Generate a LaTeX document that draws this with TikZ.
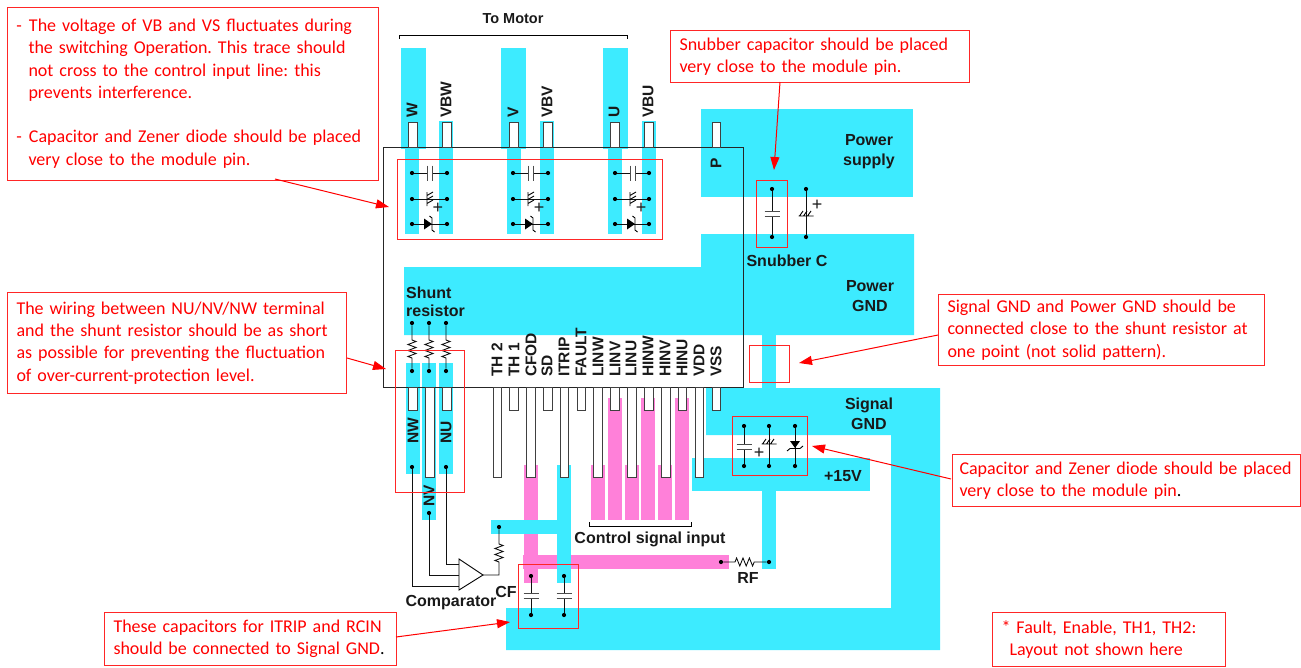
\documentclass[tikz,border=0pt]{standalone}
\usepackage{fontspec}
\setmainfont{Carlito}
\newfontfamily\lblfont{Liberation Sans}
\usetikzlibrary{arrows.meta,calc}
\definecolor{trace}{HTML}{3DEBFF}
\definecolor{ctrl}{HTML}{FF80D9}
\definecolor{note}{HTML}{FF0000}
\definecolor{wirec}{HTML}{111111}
\frenchspacing
\hbadness=10000
\hfuzz=100pt
\tikzset{
  x=1pt,y=-1pt,
  cyanarea/.style={fill=trace,draw=none},
  pinkarea/.style={fill=ctrl,draw=none},
  pinbox/.style={draw=black!75,fill=white,line width=0.9pt},
  wire/.style={draw=wirec,line width=0.9pt},
  plate/.style={draw=black!70,line width=0.9pt},
  notebox/.style={draw=note!85,line width=1pt,anchor=north west,align=left,text=note,inner xsep=9pt,inner ysep=0pt,font=\fontsize{18}{22.3}\selectfont},
  noteframe/.style={draw=note!85,line width=1pt,fill=none},
  notearrow/.style={draw=note,line width=1pt,-{Triangle[length=13pt,width=9pt]}},
  lbl/.style={font=\lblfont\bfseries\fontsize{16}{18}\selectfont,text=black!90,inner sep=0pt},
  plus/.style={text=black!90,inner sep=0pt,font=\lblfont\fontsize{18}{18}\selectfont},
  plbl/.style={lbl,align=center,font=\lblfont\bfseries\fontsize{16}{20}\selectfont},
  vlbl/.style={lbl,rotate=90,anchor=west,font=\lblfont\bfseries\fontsize{15.5}{18}\selectfont},
  vdot/.style={circle,fill=black,inner sep=0pt,minimum size=4.2pt}
}
\newcommand{\HDots}[3]{\node[vdot] (a#1#2) at (#1,#3) {};\node[vdot] (b#1#2) at (#2,#3) {};}
\newcommand{\HCap}[3]{\HDots{#1}{#2}{#3}
  \draw[wire] (a#1#2) -- ($(a#1#2)+(15,0)$) ($(a#1#2)+(20,0)$) -- (b#1#2);
  \draw[plate] ($(a#1#2)+(15,-7.5)$) -- ++(0,15) ($(a#1#2)+(20,-7.5)$) -- ++(0,15);}
\newcommand{\HZen}[3]{\HDots{#1}{#2}{#3}
  \draw[wire] (a#1#2) -- (b#1#2);
  \draw[line width=0.9pt,black] ($(a#1#2)+(15,-7)$) -- ++(0,14)
    ($(a#1#2)+(15,-3.5)$) -- ++(6,-3.5) ($(a#1#2)+(15,0.5)$) -- ++(6,-3.5) ($(a#1#2)+(15,4.5)$) -- ++(6,-3.5);
  \node[plus] (p#1#2) at ($(a#1#2)+(26,9)$) {+};}
\newcommand{\HDio}[3]{\HDots{#1}{#2}{#3}
  \draw[wire] (a#1#2) -- (b#1#2);
  \fill[black] ($(a#1#2)+(12,-5.5)$) -- ($(a#1#2)+(20,0)$) -- ($(a#1#2)+(12,5.5)$) -- cycle;
  \draw[line width=0.9pt,black] ($(a#1#2)+(17.5,-8)$) -- ($(a#1#2)+(20,-6)$) -- ($(a#1#2)+(20,6)$) -- ($(a#1#2)+(22.5,8)$);}
\newcommand{\VDots}[4]{\node[vdot] (t#4) at (#1,#2) {};\node[vdot] (u#4) at (#1,#3) {};}
\newcommand{\VCap}[5]{\VDots{#1}{#2}{#3}{#5}
  \draw[wire] (t#5) -- (#1,#4) (#1,#4+5) -- (u#5);
  \draw[plate] (#1-7.5,#4) -- ++(15,0) (#1-7.5,#4+5) -- ++(15,0);}
\newcommand{\VZen}[5]{\VDots{#1}{#2}{#3}{#5}
  \draw[wire] (t#5) -- (u#5);
  \draw[line width=0.9pt,black] (#1-7.5,#4) -- ++(15,0) (#1-6.5,#4) -- ++(3.5,-5) (#1-2.5,#4) -- ++(3.5,-5) (#1+1.5,#4) -- ++(3.5,-5);}
\newcommand{\Pin}[4]{\draw[pinbox] (#1,#3) rectangle (#2,#4);}
\begin{document}
\begin{tikzpicture}
\useasboundingbox (0,0) rectangle (1301,667);
% --- top traces
\foreach \wa/\wb/\na/\nb/\va/\vb in {401/426/405/419/439/453,501/526/507/521/540/554,603/628/608/622/642/656}{
  \fill[cyanarea] (\wa,48) rectangle (\wb,149);
  \fill[cyanarea] (\na,149) rectangle (\nb,234);
  \fill[cyanarea] (\va,121) rectangle (\vb,234);
}
% --- power planes
\fill[cyanarea] (701,109) rectangle (913,197);
\fill[cyanarea] (404,267) -- (701,267) -- (701,234) -- (914,234) -- (914,335) -- (404,335) -- cycle;
\fill[cyanarea] (762,335) rectangle (776,388);
\fill[cyanarea] (706,388) -- (940,388) -- (940,650) -- (506,650) -- (506,608) -- (891,608) -- (891,435) -- (706,435) -- cycle;
\fill[cyanarea] (692,458) rectangle (870,491);
\fill[cyanarea] (762,491) rectangle (776,569);
% --- shunt traces
\fill[cyanarea] (406,363) rectangle (420,474);
\fill[cyanarea] (422,363) rectangle (436,520);
\fill[cyanarea] (439,363) rectangle (453,474);
% --- control traces
\foreach \a/\b in {608/622,641/655,675/689}{\fill[pinkarea] (\a,398) rectangle (\b,520);}
\foreach \a/\b in {591/605,625/639,658/672}{\fill[pinkarea] (\a,465) rectangle (\b,520);}
\fill[pinkarea] (524,465) rectangle (538,583);
\fill[pinkarea] (523,555) rectangle (729,569);
\fill[cyanarea] (557,465) rectangle (571,583);
\fill[cyanarea] (491,520) rectangle (571,534);
% --- module
\draw[black!85,line width=0.9pt] (383,147) rectangle (743,387);
% --- top pins
\foreach \a/\b in {408/417,442/451,509/518,543/552,610/619,644/653,712/720}{\Pin{\a}{\b}{122.5}{147}}
% --- bottom pins
\foreach \a/\b in {408/417,442/451,509/518,543/552,577/585,610/619,644/653,678/686,712/720}{\Pin{\a}{\b}{387}{410}}
\foreach \a/\b in {425/434,493/501,526/535,560/568,593/602,627/636,661/670,695/703}{\Pin{\a}{\b}{387}{477}}
% --- top labels
\node[vlbl] (lW) at (412,118) {W};
\node[vlbl] (lVBW) at (446,118) {VBW};
\node[vlbl] (lV) at (513,118) {V};
\node[vlbl] (lVBV) at (547,118) {VBV};
\node[vlbl] (lU) at (614,118) {U};
\node[vlbl] (lVBU) at (648,118) {VBU};
\node[vlbl] (lP) at (716,169) {P};
% --- pin labels
\foreach \t/\x in {TH 2/497,TH 1/514,CFOD/531,SD/547,ITRIP/564,FAULT/581,LINW/598,LINV/615,LINU/631,HINW/648,HINV/665,HINU/682,VDD/699,VSS/716}{
  \node[vlbl] at (\x,377) {\t};}
\node[vlbl] (lNW) at (413,444) {NW};
\node[vlbl] (lNU) at (446,444) {NU};
\node[vlbl] (lNV) at (429,507) {NV};
% --- to motor
\node[lbl,font=\lblfont\bfseries\fontsize{14.5}{14}\selectfont] (motor) at (513,19) {To Motor};
\coordinate (mL) at (399,35); \coordinate (mR) at (627,35);
\draw[black,line width=0.7pt] ($(mL)+(0,4)$) -- (mL) -- (mR) -- ($(mR)+(0,4)$);
% --- top components
\foreach \d/\e in {412/447,513/548,615/649}{
  \HCap{\d}{\e}{173}
  \HZen{\d}{\e}{199}
  \HDio{\d}{\e}{224}
}
% --- snubber
\VCap{772}{189}{237}{211}{sa}
\VZen{806}{189}{237}{216}{sb}
\node[plus] (psn) at (817,205) {+};
\node[lbl] (snub) at (787,261) {Snubber C};
% --- plane labels
\node[plbl] (ps) at (869,151.5) {Power\\supply};
\node[plbl] (pg) at (870,296) {Power\\GND};
\node[plbl] (sg) at (869,414) {Signal\\GND};
\node[lbl] (v15) at (843,476) {+15V};
\node[lbl,align=left,anchor=north west] (shunt) at (406,286.5) {Shunt\\resistor};
% --- shunt resistors
\foreach \x/\n in {412/a,429/b,446/c}{
  \node[vdot] (rt\n) at (\x,323) {};
  \node[vdot] (rb\n) at (\x,371) {};
  \draw[wire,line join=miter] (rt\n) -- (\x,340) -- ++(4,1.5) -- ++(-8,3) -- ++(8,3) -- ++(-8,3) -- ++(8,3) -- ++(-8,3) -- ++(4,1.5) -- (rb\n);
}
% --- 15V components
\VCap{744}{426}{466}{444}{ca}
\VZen{769}{426}{466}{444}{cb}
\node[plus] (pls) at (759,453) {+};
\VDots{795}{426}{466}{cc}
\draw[wire] (tcc) -- (ucc);
\fill[black] (790,441) -- (800,441) -- (795,448) -- cycle;
\draw[line width=0.9pt,black] (787,451) -- (790,448.5) -- (800,448.5) -- (803,446);
% --- comparator
\draw[black,fill=white,line width=0.9pt] (459,559) -- (483,575) -- (459,590) -- cycle;
\coordinate (cin1) at (459,564);
\coordinate (cin2) at (459,575);
\coordinate (cin3) at (459,586);
\coordinate (cout) at (483,575);
\node[vdot] (dNU) at (446,467) {};
\node[vdot] (dNW) at (412,467) {};
\node[vdot] (dNV) at (429,513) {};
\draw[wire] (dNU) |- (cin1);
\draw[wire] (dNV) |- (cin2);
\draw[wire] (dNW) |- (cin3);
\node[vdot] (dFb) at (499,527) {};
\draw[wire] (cout) -- (499,575) -- (499,562) -- ++(-4,-1.5) -- ++(8,-3) -- ++(-8,-3) -- ++(8,-3) -- ++(-8,-3) -- ++(8,-3) -- ++(-4,-1.5) -- (dFb);
\node[lbl] (comp) at (451,603) {Comparator};
\node[lbl] (cf) at (506,592) {CF};
% --- control input
\node[lbl] (csi) at (650,539) {Control signal input};
\coordinate (bL) at (589,526); \coordinate (bR) at (691,526);
\draw[black,line width=0.7pt] ($(bL)+(0,-4)$) -- (bL) -- (bR) -- ($(bR)+(0,-4)$);
% --- CF caps
\VCap{531}{576}{615}{593}{fa}
\VCap{564}{576}{615}{593}{fb}
% --- RF
\node[vdot] (rfa) at (721,562) {};
\node[vdot] (rfb) at (769,562) {};
\draw[wire] (rfa) -- (735,562) -- ++(1.6,-4) -- ++(3.2,8) -- ++(3.2,-8) -- ++(3.2,8) -- ++(3.2,-8) -- ++(3.2,8) -- ++(1.6,-4) -- (rfb);
\node[lbl] (rf) at (748,578) {RF};
% --- highlight frames
\node[noteframe,draw,anchor=north west,minimum width=265pt,minimum height=80pt,inner sep=0pt] (f1) at (397,159) {};
\node[noteframe,draw,anchor=north west,minimum width=31pt,minimum height=67pt,inner sep=0pt] (f2) at (756,180) {};
\node[noteframe,draw,anchor=north west,minimum width=69pt,minimum height=142pt,inner sep=0pt] (f3) at (395,350) {};
\node[noteframe,draw,anchor=north west,minimum width=40pt,minimum height=37pt,inner sep=0pt] (f4) at (749,345) {};
\node[noteframe,draw,anchor=north west,minimum width=75pt,minimum height=59pt,inner sep=0pt] (f5) at (732,416) {};
\node[noteframe,draw,anchor=north west,minimum width=60pt,minimum height=64pt,inner sep=0pt] (f6) at (518,564) {};
% --- notes
\node[notebox,inner xsep=4pt,minimum width=371pt,text width=363pt,minimum height=173pt] (n1) at (6.5,6.5) {\mbox{\hspace*{5.5pt}-\hspace{7pt}The voltage of VB and VS fluctuates during}\\
\mbox{\hspace*{17.5pt}the switching Operation. This trace should}\\
\mbox{\hspace*{17.5pt}not cross to the control input line: this}\\
\mbox{\hspace*{17.5pt}prevents interference.}\\
\mbox{}\\
\mbox{\hspace*{5.5pt}-\hspace{7pt}Capacitor and Zener diode should be placed}\\
\mbox{\hspace*{17.5pt}very close to the module pin.}};
\node[notebox,minimum width=299pt,text width=281pt,minimum height=52pt] (n2) at (670,30) {Snubber capacitor should be placed\\very close to the module pin.};
\node[notebox,minimum width=339pt,text width=321pt,minimum height=101pt] (n3) at (7,292) {The wiring between NU/NV/NW terminal\\and the shunt resistor should be as short\\as possible for preventing the fluctuation\\of over-current-protection level.};
\node[notebox,minimum width=326pt,text width=308pt,minimum height=71pt] (n4) at (938,294) {Signal GND and Power GND should be\\connected close to the shunt resistor at\\one point (not solid pattern).};
\node[notebox,inner xsep=7pt,minimum width=348pt,text width=334pt,minimum height=52pt] (n5) at (952,454) {Capacitor and Zener diode should be placed\\very close to the module pin\textcolor{black}{.}};
\node[notebox,minimum width=292pt,text width=274pt,minimum height=53pt] (n6) at (104,612) {These capacitors for ITRIP and RCIN\\should be connected to Signal GND\textcolor{black}{.}};
\node[notebox,minimum width=233pt,text width=215pt,minimum height=54pt] (n7) at (992,612) {* Fault, Enable, TH1, TH2:\\\hspace*{8pt}Layout not shown here};
% --- arrows
\coordinate (s1) at (275,179); \coordinate (e1) at (389,207);
\coordinate (s2) at (780,82);  \coordinate (e2) at (774,170);
\coordinate (s3) at (347,358); \coordinate (e3) at (386,369);
\coordinate (s4) at (938,335); \coordinate (e4) at (799,363);
\coordinate (s5) at (951,479); \coordinate (e5) at (812,446);
\coordinate (s6) at (396,637); \coordinate (e6) at (510,622);
\foreach \i in {1,...,6}{\draw[notearrow] (s\i) -- (e\i);}
\end{tikzpicture}
\end{document}
